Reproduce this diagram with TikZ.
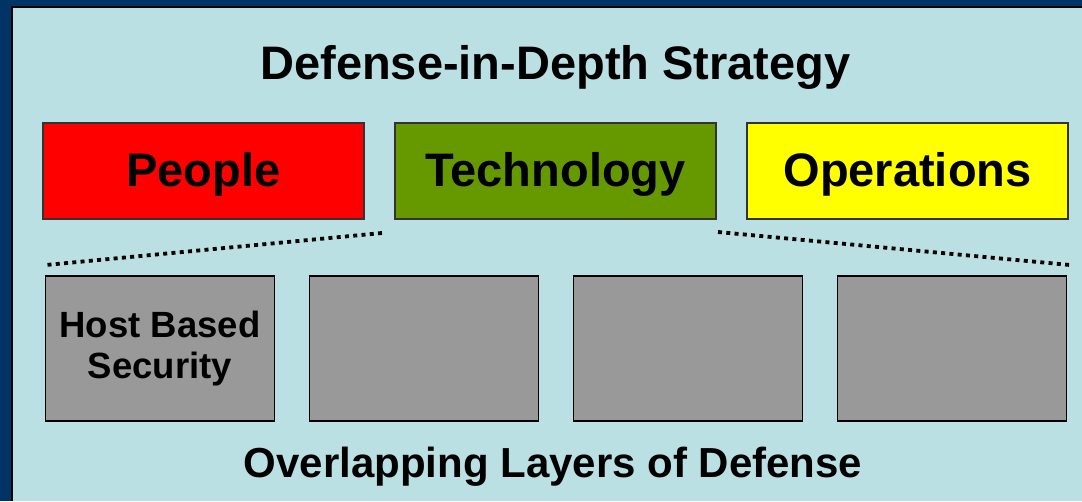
\documentclass[tikz,border=0pt]{standalone}
\usepackage{fontspec}
\setmainfont{Liberation Sans}
\definecolor{bgblue}{HTML}{BAE0E3}
\definecolor{frameblue}{HTML}{003366}
\definecolor{techgreen}{HTML}{669900}
\definecolor{opsyellow}{HTML}{FFFF00}
\definecolor{peoplered}{HTML}{FF0000}
\definecolor{layergray}{HTML}{999999}
\tikzset{
  pillar/.style={draw=black!80, line width=1.4pt, minimum width=321pt, minimum height=96pt,
    inner sep=0pt, text height=30pt, text depth=0pt,
    font=\bfseries\fontsize{47}{56}\selectfont},
  layer/.style={draw=black, line width=1.8pt, fill=layergray, minimum width=229pt, minimum height=145pt,
    inner sep=0pt, align=center, font=\bfseries\fontsize{36.5}{41}\selectfont},
  heading/.style={anchor=base, inner sep=0pt, font=\bfseries\fontsize{47}{56}\selectfont},
  subheading/.style={anchor=base, inner sep=0pt, font=\bfseries\fontsize{42}{50}\selectfont},
  dotline/.style={line width=3.8pt, dash pattern=on 4pt off 4.3pt}
}
\begin{document}
\begin{tikzpicture}[x=1pt,y=-1pt]
  \useasboundingbox (0,0) rectangle (1082,501);
  % frame
  \fill[frameblue] (0,0) rectangle (1082,501);
  \fill[black] (11,6) rectangle (1082,501);
  \fill[bgblue] (12.5,8) rectangle (1082,501);
  % title
  \node[heading] (title) at (555.5,79) {Defense-in-Depth Strategy};
  % pillars
  \node[pillar, fill=peoplered] (people) at (203.5,171) {People};
  \node[pillar, fill=techgreen] (tech) at (555.5,171) {Technology};
  \node[pillar, fill=opsyellow] (ops) at (907.5,171) {Operations};
  % layers
  \node[layer] (l1) at (160,348.5) {Host Based\\Security};
  \node[layer] (l2) at (424,348.5) {};
  \node[layer] (l3) at (688,348.5) {};
  \node[layer] (l4) at (952,348.5) {};
  % dotted expansion lines
  \coordinate (dA) at (382,233);
  \coordinate (dB) at (46,265);
  \coordinate (dC) at (718,232);
  \coordinate (dD) at (1070,265);
  \draw[dotline] (dA) -- (dB);
  \draw[dotline] (dC) -- (dD);
  % caption
  \node[subheading] (caption) at (553,477) {Overlapping Layers of Defense};
\end{tikzpicture}
\end{document}
